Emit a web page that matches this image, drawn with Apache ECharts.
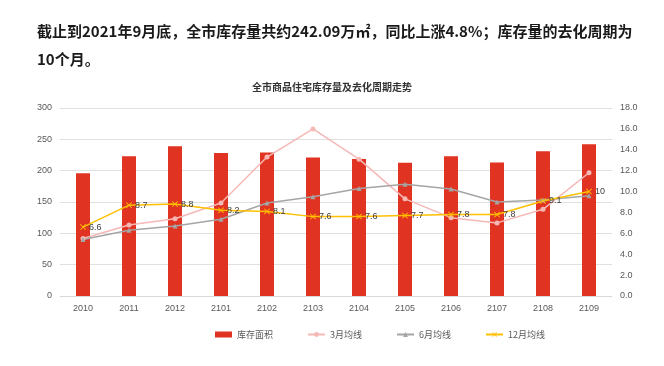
<!DOCTYPE html>
<html><head><meta charset="utf-8">
<script src="https://cdn.jsdelivr.net/npm/echarts@6/dist/echarts.min.js"></script>
<style>html,body{margin:0;padding:0;background:#fff}#c{width:664px;height:366px}</style>
</head><body><div id="c"></div>
<script>
var categories = ['2010','2011','2012','2101','2102','2103','2104','2105','2106','2107','2108','2109'];
var stockArea = [196, 223, 239, 228, 229, 221, 218.6, 212.8, 223, 213, 231, 242.09];
var avg3 = [5.5, 6.8, 7.4, 8.9, 13.3, 16.0, 13.1, 9.3, 7.5, 7.0, 8.3, 11.8];
var avg6 = [5.4, 6.3, 6.7, 7.35, 8.9, 9.5, 10.3, 10.7, 10.25, 9.0, 9.2, 9.6];
var avg12 = [6.6, 8.7, 8.8, 8.2, 8.1, 7.6, 7.6, 7.7, 7.8, 7.8, 9.1, 10];
var seriesNames = ['库存面积','3月均线','6月均线','12月均线'];
var headerText = '截止到2021年9月底，全市库存量共约242.09万㎡，同比上涨4.8%；库存量的去化周期为\n10个月。';
var chartTitle = '全市商品住宅库存量及去化周期走势';

var xSym = 'path://M0,1L1,0L5,4L9,0L10,1L6,5L10,9L9,10L5,6L1,10L0,9L4,5Z';
var chart = echarts.init(document.getElementById('c'));
chart.setOption({
  backgroundColor: '#fff',
  animation: false,
  title: [
    {text: headerText, left: 32, top: 12, textStyle: {fontSize: 15, fontWeight: 'bold', color: '#1a1a1a', lineHeight: 28, fontFamily: 'Noto Sans CJK SC'}},
    {text: chartTitle, left: 'center', top: 77, textStyle: {fontSize: 10, fontWeight: 'bold', color: '#333', fontFamily: 'Noto Sans CJK SC'}}
  ],
  legend: {
    bottom: 22, left: 210, itemGap: 34, itemWidth: 17, itemHeight: 6,
    textStyle: {fontSize: 9, color: '#595959', fontFamily: 'Noto Sans CJK SC'},
    data: [
      {name: seriesNames[0], icon: 'rect'},
      {name: seriesNames[1]},
      {name: seriesNames[2]},
      {name: seriesNames[3]}
    ]
  },
  grid: {left: 60, right: 52, top: 108, bottom: 70},
  xAxis: {
    type: 'category', data: categories,
    axisLine: {lineStyle: {color: '#d9d9d9'}}, axisTick: {show: false},
    axisLabel: {fontSize: 9, color: '#595959', margin: 8}
  },
  yAxis: [
    {type: 'value', min: 0, max: 300, interval: 50,
     axisLine: {show: false}, axisTick: {show: false},
     axisLabel: {fontSize: 9, color: '#595959'},
     splitLine: {lineStyle: {color: '#e0e0e0'}}},
    {type: 'value', min: 0, max: 18, interval: 2, position: 'right',
     axisLine: {show: false}, axisTick: {show: false},
     axisLabel: {fontSize: 9, color: '#595959', formatter: function(v){return v.toFixed(1);}},
     splitLine: {show: false}}
  ],
  series: [
    {name: seriesNames[0], type: 'bar', data: stockArea, barWidth: 14, itemStyle: {color: '#E03321'}},
    {name: seriesNames[1], type: 'line', yAxisIndex: 1, data: avg3, symbol: 'circle', symbolSize: 5,
     lineStyle: {color: '#F5B8B5', width: 1.5}, itemStyle: {color: '#F5B8B5'}},
    {name: seriesNames[2], type: 'line', yAxisIndex: 1, data: avg6, symbol: 'triangle', symbolSize: 5,
     lineStyle: {color: '#A5A5A5', width: 1.5}, itemStyle: {color: '#A5A5A5'}},
    {name: seriesNames[3], type: 'line', yAxisIndex: 1, data: avg12, symbol: xSym, symbolSize: 6,
     lineStyle: {color: '#FFC000', width: 1.5}, itemStyle: {color: '#FFC000'},
     label: {show: true, position: 'right', distance: 3, fontSize: 9, color: '#404040'}}
  ]
});
</script></body></html>
